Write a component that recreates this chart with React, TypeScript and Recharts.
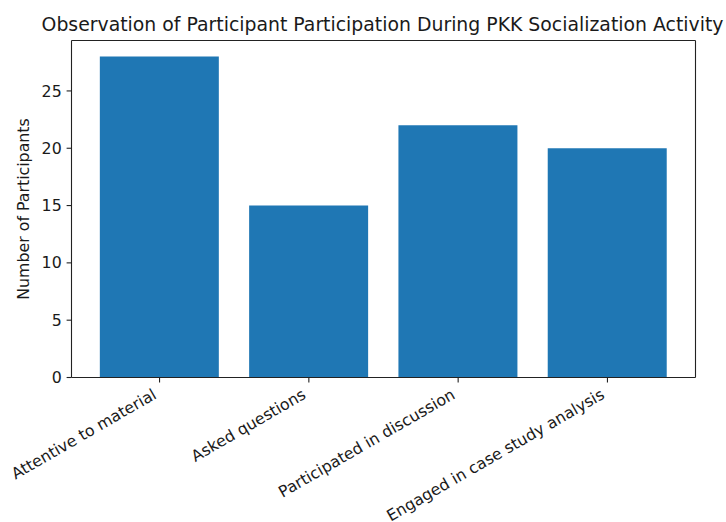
import React from 'react';
import { BarChart, Bar, XAxis, YAxis } from 'recharts';

const categories = [
  'Attentive to material',
  'Asked questions',
  'Participated in discussion',
  'Engaged in case study analysis',
];
const participants = [28, 15, 22, 20];
const yTicks = [0, 5, 10, 15, 20, 25];
const title = 'Observation of Participant Participation During PKK Socialization Activity';
const yLabel = 'Number of Participants';

const data = categories.map((c, i) => ({ name: c, value: participants[i] }));

const FONT = '"DejaVu Sans", sans-serif';
const TEXT = '#1a1a1a';
const SPINE = '#222';
const FS = 15.8;

const XTick = (props: any) => {
  const { x, y, payload } = props;
  const bx = x - 1.9;
  const by = y + 10.4;
  return (
    <g>
      <text
        x={bx}
        y={by}
        transform={`rotate(-30, ${bx}, ${by})`}
        textAnchor="end"
        fontSize={FS}
        fontFamily={FONT}
        fill={TEXT}
      >
        {payload.value}
      </text>
    </g>
  );
};

export default function App() {
  return (
    <div style={{ position: 'absolute', left: 0, top: 0, width: 726, height: 522, background: '#fff' }}>
      <BarChart
        width={726}
        height={522}
        data={data}
        margin={{ top: 39.5, right: 29.5, bottom: 114.5, left: 11.5 }}
        barCategoryGap="10%"
      >
        <XAxis
          dataKey="name"
          xAxisId="main"
          padding={{ left: 13.4, right: 13.4 }}
          height={30}
          interval={0}
          tick={<XTick />}
          tickSize={4.9}
          tickMargin={4.9}
          axisLine={{ stroke: SPINE, strokeWidth: 1.1 }}
          tickLine={{ stroke: SPINE, strokeWidth: 1.1 }}
        />
        <XAxis
          dataKey="name"
          xAxisId="top"
          orientation="top"
          height={1}
          tick={false}
          tickLine={false}
          axisLine={{ stroke: SPINE, strokeWidth: 1.1 }}
        />
        <YAxis
          yAxisId="main"
          width={60}
          domain={[0, 29.4]}
          ticks={yTicks}
          allowDataOverflow
          tickSize={4.9}
          tickMargin={4.9}
          tick={{ fontSize: FS, fontFamily: FONT, fill: TEXT }}
          axisLine={{ stroke: SPINE, strokeWidth: 1.1 }}
          tickLine={{ stroke: SPINE, strokeWidth: 1.1 }}
          label={{
            content: (p: any) => {
              const vb = p.viewBox || {};
              const cy = (vb.y ?? 40.5) + (vb.height ?? 337) / 2;
              return (
                <text
                  x={29}
                  y={cy}
                  transform={`rotate(-90, 29, ${cy})`}
                  textAnchor="middle"
                  fontSize={FS}
                  fontFamily={FONT}
                  fill={TEXT}
                >
                  {yLabel}
                </text>
              );
            },
          }}
        />
        <YAxis
          yAxisId="right"
          orientation="right"
          width={1}
          domain={[0, 29.4]}
          tick={false}
          tickLine={false}
          axisLine={{ stroke: SPINE, strokeWidth: 1.1 }}
        />
        <Bar dataKey="value" xAxisId="main" yAxisId="main" fill="#1f77b4" isAnimationActive={false} />
      </BarChart>
      <svg
        width={726}
        height={60}
        style={{ position: 'absolute', left: 0, top: 0, pointerEvents: 'none' }}
      >
        <text x={382.5} y={31} textAnchor="middle" fontSize={18.85} fontFamily={FONT} fill={TEXT}>
          {title}
        </text>
      </svg>
    </div>
  );
}
